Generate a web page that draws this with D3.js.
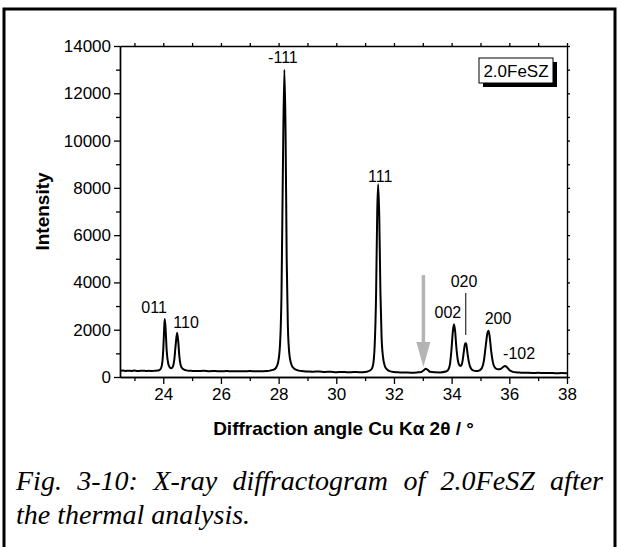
<!DOCTYPE html>
<html><head><meta charset="utf-8">
<script src="https://cdn.jsdelivr.net/npm/d3@7"></script>
<style>
html,body{margin:0;padding:0;background:#fff;}
svg{display:block;}
</style></head>
<body>
<svg id="chart" width="618" height="547"></svg>
<script>
// ---- data ----
const twoTheta = [22.5,22.6,22.7,22.8,22.9,23.0,23.1,23.2,23.3,23.4,23.5,23.6,23.7,23.8,23.85,23.9,23.95,24.0,24.03,24.05,24.08,24.12,24.17,24.22,24.28,24.33,24.38,24.43,24.48,24.52,24.56,24.6,24.65,24.72,24.8,24.9,25.0,25.2,25.4,25.6,25.8,26.0,26.2,26.4,26.6,26.8,27.0,27.2,27.4,27.6,27.7,27.8,27.9,27.98,28.05,28.1,28.15,28.2,28.24,28.28,28.32,28.37,28.43,28.5,28.6,28.7,28.8,29.0,29.2,29.4,29.6,29.8,30.0,30.2,30.4,30.6,30.8,31.0,31.1,31.2,31.27,31.33,31.38,31.42,31.45,31.49,31.53,31.57,31.62,31.68,31.75,31.85,32.0,32.2,32.4,32.6,32.8,32.95,33.05,33.1,33.17,33.25,33.4,33.6,33.8,33.88,33.94,33.99,34.04,34.08,34.12,34.16,34.21,34.27,34.32,34.37,34.42,34.47,34.5,34.55,34.6,34.66,34.74,34.85,34.95,35.05,35.12,35.18,35.24,35.28,35.32,35.37,35.43,35.5,35.6,35.7,35.78,35.85,35.92,36.0,36.1,36.25,36.4,36.6,36.8,37.0,37.2,37.4,37.6,37.8,38.0];
const intensity = [262,270,255,266,258,272,250,262,268,255,260,252,265,270,285,330,480,1150,2000,2450,2050,1100,580,420,370,430,700,1350,1870,1500,850,520,380,310,280,265,258,250,262,245,255,240,252,238,246,240,250,238,245,255,270,300,370,600,1400,3500,9000,13000,10500,5000,2200,1000,580,400,310,270,250,235,225,230,215,220,205,215,200,210,205,215,240,300,480,1300,3500,7000,8150,6800,3600,1700,850,480,330,250,210,195,190,185,195,215,300,350,300,220,200,195,230,300,520,1100,1900,2230,1950,1300,750,500,470,620,1050,1430,1420,1000,620,380,280,250,270,380,700,1300,1850,1960,1700,1100,620,400,330,340,420,465,410,300,230,195,185,178,172,175,165,170,160,165,158];

const xMajorTicks = [24,26,28,30,32,34,36,38];
const xMinorTicks = [23,25,27,29,31,33,35,37];
const yMajorTicks = [0,2000,4000,6000,8000,10000,12000,14000];
const yMinorTicks = [1000,3000,5000,7000,9000,11000,13000];

const peakLabels = ["011","110","-111","111","002","020","200","-102"];
const labelAngle = [23.68,24.79,28.15,31.52,33.87,34.43,35.61,36.34];
const labelIntensity = [2700,2070,13280,8250,2495,3800,2240,760];

const leaderAngle = 34.49, leaderFrom = 3550, leaderTo = 1780;   // 020 leader line
const arrowAngle = 33.02, arrowFrom = 4310, arrowTo = 420;        // grey arrow

const sampleName = "2.0FeSZ";
const xTitle = "Diffraction angle Cu K\u03B1 2\u03B8 / \u00B0";
const yTitle = "Intensity";
const captionLine1 = "Fig. 3-10: X-ray diffractogram of 2.0FeSZ after";
const captionLine2 = "the thermal analysis.";

// ---- drawing ----
const svg = d3.select("#chart");
const sans = "'Liberation Sans', Arial, Helvetica, sans-serif";
const serif = "'Liberation Serif', 'Times New Roman', Times, serif";

// outer frame
svg.append("rect").attr("x",4).attr("y",9).attr("width",611).attr("height",620)
  .attr("fill","none").attr("stroke","#000").attr("stroke-width",3);

const x = d3.scaleLinear().domain([22.5,38]).range([120,567]);
const y = d3.scaleLinear().domain([0,14000]).range([377,46]);

function styleAxis(g, fs){
  g.selectAll(".domain").attr("stroke","#000").attr("stroke-width",1.4);
  g.selectAll(".tick line").attr("stroke","#000").attr("stroke-width",1.3);
  g.selectAll(".tick text").attr("font-family",sans).attr("font-size",fs).attr("fill","#000");
}

// bottom axis
const gb = svg.append("g").attr("transform",`translate(0,${y(0)})`)
  .call(d3.axisBottom(x).tickValues(xMajorTicks).tickSize(7).tickSizeOuter(0).tickPadding(4).tickFormat(d3.format("d")));
styleAxis(gb,17);
const gbm = svg.append("g").attr("transform",`translate(0,${y(0)})`)
  .call(d3.axisBottom(x).tickValues(xMinorTicks).tickSize(4).tickSizeOuter(0).tickFormat(""));
styleAxis(gbm,17);

// left axis
const gl = svg.append("g").attr("transform",`translate(${x(22.5)},0)`)
  .call(d3.axisLeft(y).tickValues(yMajorTicks).tickSize(6).tickSizeOuter(0).tickPadding(3).tickFormat(d3.format("d")));
styleAxis(gl,17);
const glm = svg.append("g").attr("transform",`translate(${x(22.5)},0)`)
  .call(d3.axisLeft(y).tickValues(yMinorTicks).tickSize(4).tickSizeOuter(0).tickFormat(""));
styleAxis(glm,17);

// top axis
const gt = svg.append("g").attr("transform",`translate(0,${y(14000)})`)
  .call(d3.axisTop(x).tickValues(xMajorTicks.concat(xMinorTicks)).tickSize(3).tickSizeOuter(0).tickFormat(""));
styleAxis(gt,17);
// right axis
const gr = svg.append("g").attr("transform",`translate(${x(38)},0)`)
  .call(d3.axisRight(y).tickValues(yMajorTicks.concat(yMinorTicks)).tickSize(3).tickSizeOuter(0).tickFormat(""));
styleAxis(gr,17);

// axis titles
svg.append("text").attr("x",(x(22.5)+x(38))/2).attr("y",435)
  .attr("text-anchor","middle").attr("font-family",sans).attr("font-weight","bold")
  .attr("font-size",19).text(xTitle);
svg.append("text").attr("transform",`translate(49,${(y(0)+y(14000))/2}) rotate(-90)`)
  .attr("text-anchor","middle").attr("font-family",sans).attr("font-weight","bold")
  .attr("font-size",19).text(yTitle);

// pattern line
const pts = twoTheta.map((t,i)=>[t,intensity[i]]);
svg.append("path").datum(pts)
  .attr("d", d3.line().x(d=>x(d[0])).y(d=>y(d[1])).curve(d3.curveMonotoneX))
  .attr("fill","none").attr("stroke","#000").attr("stroke-width",2).attr("stroke-linejoin","round");

// peak labels
svg.append("g").selectAll("text").data(peakLabels).join("text")
  .attr("x",(d,i)=>x(labelAngle[i])).attr("y",(d,i)=>y(labelIntensity[i]))
  .attr("text-anchor","middle").attr("font-family",sans).attr("font-size",16).text(d=>d);

// 020 leader
svg.append("line").attr("x1",x(leaderAngle)).attr("x2",x(leaderAngle))
  .attr("y1",y(leaderFrom)).attr("y2",y(leaderTo)).attr("stroke","#000").attr("stroke-width",1);

// grey arrow
const ax = x(arrowAngle), aTop = y(arrowFrom), aTip = y(arrowTo);
svg.append("line").attr("x1",ax).attr("x2",ax).attr("y1",aTop).attr("y2",aTip-20)
  .attr("stroke","#b4b4b4").attr("stroke-width",3.5);
svg.append("path").attr("d",`M${ax-7},${aTip-25} L${ax+7},${aTip-25} L${ax},${aTip} Z`)
  .attr("fill","#b4b4b4");

// sample label box with shadow
const bx = 479, by = 58, bw = 74, bh = 25;
svg.append("rect").attr("x",bx+4).attr("y",by+4).attr("width",bw).attr("height",bh).attr("fill","#000");
svg.append("rect").attr("x",bx).attr("y",by).attr("width",bw).attr("height",bh)
  .attr("fill","#fff").attr("stroke","#000").attr("stroke-width",1);
svg.append("text").attr("x",bx+bw/2).attr("y",by+19).attr("text-anchor","middle")
  .attr("font-family",sans).attr("font-size",17).text(sampleName);

// caption (first line justified)
const capLeft = 16, capRight = 603, capSize = 28;
function justified(line, yPos){
  const words = line.split(" ");
  const t = svg.append("text").attr("y",yPos).attr("font-family",serif)
    .attr("font-style","italic").attr("font-size",capSize);
  const spans = words.map(w => t.append("tspan").text(w));
  const widths = spans.map(s => s.node().getComputedTextLength());
  const total = d3.sum(widths);
  const gap = (capRight - capLeft - total) / (words.length - 1);
  let cx = capLeft;
  spans.forEach((s,i)=>{ s.attr("x",cx); cx += widths[i] + gap; });
}
justified(captionLine1, 490);
svg.append("text").attr("x",capLeft).attr("y",524).attr("font-family",serif)
  .attr("font-style","italic").attr("font-size",capSize).text(captionLine2);
</script>
</body></html>
